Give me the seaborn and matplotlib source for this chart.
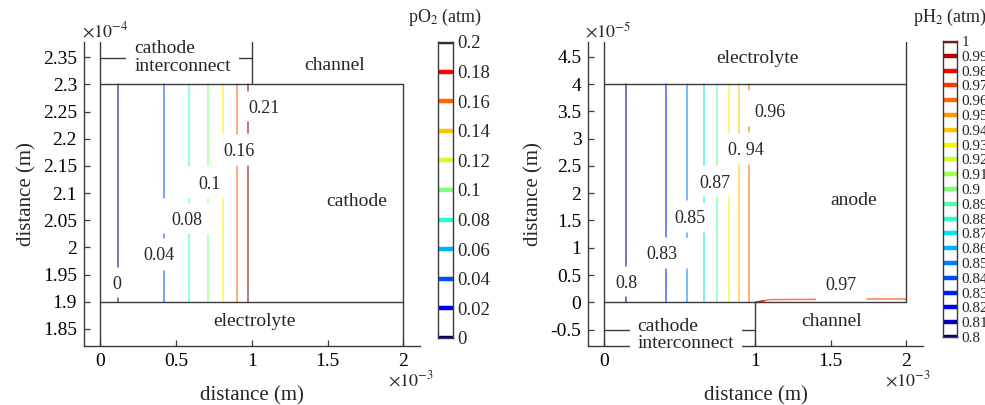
import numpy as np
import pandas as pd
import matplotlib
matplotlib.use("Agg")
import matplotlib.pyplot as plt
from matplotlib.ticker import FuncFormatter
import seaborn as sns

sns.set_style("ticks")
plt.rcParams["font.family"] = ["Liberation Serif", "DejaVu Serif"]
plt.rcParams["mathtext.fontset"] = "stix"
plt.rcParams["axes.unicode_minus"] = False

# ---------------- cathode side: oxygen partial pressure ----------------
# x in units of 1e-3 m, y in units of 1e-4 m
o2_levels = [0.0, 0.04, 0.08, 0.10, 0.13, 0.16, 0.21]
o2_x = [0.115, 0.423, 0.583, 0.709, 0.812, 0.900, 0.977]
o2_pieces = [
    [(2.300, 1.963), (1.906, 1.900)],
    [(2.300, 2.091), (2.024, 2.017), (1.957, 1.900)],
    [(2.300, 2.150), (2.089, 2.081), (2.024, 1.900)],
    [(2.300, 2.150), (2.089, 2.081), (2.024, 1.900)],
    [(2.300, 2.209), (2.091, 1.900)],
    [(2.300, 2.209), (2.150, 1.900)],
    [(2.300, 2.287), (2.230, 2.211), (2.150, 1.900)],
]
o2_label_text = ["0.21", "0.16", "0.1", "0.08", "0.04", "0"]
o2_label_x = [1.082, 0.914, 0.722, 0.573, 0.386, 0.109]
o2_label_y = [2.255, 2.1765, 2.116, 2.050, 1.985, 1.931]
o2_bar_levels = [0.0, 0.02, 0.04, 0.06, 0.08, 0.10, 0.12, 0.14, 0.16, 0.18, 0.20]
o2_bar_labels = ["0", "0.02", "0.04", "0.06", "0.08", "0.1", "0.12", "0.14",
                 "0.16", "0.18", "0.2"]
o2_yticks = [1.85, 1.90, 1.95, 2.00, 2.05, 2.10, 2.15, 2.20, 2.25, 2.30, 2.35]

# ---------------- anode side: hydrogen partial pressure ----------------
# x in units of 1e-3 m, y in units of 1e-5 m
h2_levels = [0.80, 0.83, 0.85, 0.87, 0.89, 0.93, 0.94, 0.96]
h2_x = [0.141, 0.405, 0.548, 0.661, 0.747, 0.825, 0.895, 0.961]
h2_pieces = [
    [(4.0, 0.667), (0.099, 0.0)],
    [(4.0, 1.198), (0.612, 0.0)],
    [(4.0, 1.875), (1.271, 1.198), (0.612, 0.0)],
    [(4.0, 2.516), (1.930, 1.839), (1.271, 0.0)],
    [(4.0, 2.516), (1.930, 0.0)],
    [(4.0, 3.103), (1.930, 0.0)],
    [(4.0, 3.103), (2.516, 0.0)],
    [(4.0, 3.890), (3.210, 3.120), (2.516, 0.0)],
]
# contours hugging the anode/interconnect boundary under the channel
h2_edge_levels = [0.97, 0.97, 0.99]
h2_edge_x = [[1.00, 1.10, 1.40], [1.74, 2.00], [1.00, 1.06]]
h2_edge_y = [[0.000, 0.050, 0.055], [0.055, 0.055], [0.000, 0.030]]
h2_label_text = ["0.96", "0. 94", "0.87", "0.85", "0.83", "0.8", "0.97"]
h2_label_x = [1.097, 0.935, 0.729, 0.568, 0.383, 0.146, 1.568]
h2_label_y = [3.48, 2.78, 2.18, 1.53, 0.88, 0.348, 0.304]
h2_bar_levels = [0.80, 0.81, 0.82, 0.83, 0.84, 0.85, 0.86, 0.87, 0.88, 0.89, 0.90,
                 0.91, 0.92, 0.93, 0.94, 0.95, 0.96, 0.97, 0.98, 0.99, 1.00]
h2_bar_labels = ["0.8", "0.81", "0.82", "0.83", "0.84", "0.85", "0.86", "0.87",
                 "0.88", "0.89", "0.9", "0.91", "0.92", "0.93", "0.94", "0.95",
                 "0.96", "0.97", "0.98", "0.99", "1"]
h2_yticks = [-0.5, 0.0, 0.5, 1.0, 1.5, 2.0, 2.5, 3.0, 3.5, 4.0, 4.5]

x_ticks_left = [0.0, 0.5, 1.0, 1.5, 2.0]
x_ticks_right = [0.0, 1.0, 1.5, 2.0]

jet = plt.get_cmap("jet")
EDGE = "#3a3a3a"
FS = 14


def contour_frame(xs, pieces, levels):
    rows, k = [], 0
    for x, lev, segs in zip(xs, levels, pieces):
        for y0, y1 in segs:
            rows.append((x, y0, lev, k))
            rows.append((x, y1, lev, k))
            k += 1
    return pd.DataFrame(rows, columns=["x", "y", "level", "piece"])


def curve_frame(xs, ys, levels, start):
    rows = []
    for k, (cx, cy, lev) in enumerate(zip(xs, ys, levels)):
        for a, b in zip(cx, cy):
            rows.append((a, b, lev, start + k))
    return pd.DataFrame(rows, columns=["x", "y", "level", "piece"])


def draw_contours(ax, df, vmin, vmax):
    norm = plt.Normalize(vmin, vmax, clip=True)
    pal = {lev: jet(norm(lev)) for lev in df["level"].unique()}
    sns.lineplot(data=df, x="x", y="y", hue="level", palette=pal,
                 units="piece", estimator=None, sort=False, legend=False,
                 lw=1.1, alpha=0.68, ax=ax, zorder=2)


def style_axes(ax, xlim, ylim, yticks, xticks):
    ax.set_xlim(*xlim)
    ax.set_ylim(*ylim)
    ax.set_xticks(xticks)
    ax.set_yticks(yticks)
    fmt = FuncFormatter(lambda v, p: f"{v:g}")
    ax.xaxis.set_major_formatter(fmt)
    ax.yaxis.set_major_formatter(fmt)
    for s in ("top", "right"):
        ax.spines[s].set_visible(False)
    for s in ("left", "bottom"):
        ax.spines[s].set_color(EDGE)
        ax.spines[s].set_linewidth(1.0)
    ax.tick_params(direction="in", length=4, width=0.9, colors=EDGE,
                   labelcolor="black", labelsize=FS, pad=5)
    ax.set_xlabel("distance (m)", fontsize=15, labelpad=12)
    ax.set_ylabel("distance (m)", fontsize=15, labelpad=5)
    ax.set_facecolor("white")


def draw_bar(cax, levels, labels, fs):
    norm = plt.Normalize(levels[0], levels[-1])
    cax.hlines(levels, 0, 1, colors=[jet(norm(v)) for v in levels], lw=3.2)
    cax.set_xlim(0, 1)
    cax.set_ylim(levels[0], levels[-1])
    cax.set_xticks([])
    cax.yaxis.tick_right()
    cax.set_yticks(levels)
    cax.set_yticklabels(labels)
    cax.tick_params(axis="y", length=0, labelsize=fs, pad=3)
    for s in cax.spines.values():
        s.set_visible(True)
        s.set_color(EDGE)
        s.set_linewidth(1.0)


W, H = 985, 405
fig = plt.figure(figsize=(W / 100, H / 100), dpi=100)


def px_axes(x0, y0, x1, y1):
    return fig.add_axes([x0 / W, 1 - y1 / H, (x1 - x0) / W, (y1 - y0) / H])


ax1 = px_axes(84, 42, 420, 346)
cb1 = px_axes(437.7, 42, 452.7, 338)
ax2 = px_axes(588.3, 42, 922.7, 346)
cb2 = px_axes(942.7, 41, 957.3, 337)

box = dict(boxstyle="square,pad=0.4", fc="white", ec="none")

# ---- left panel ----
y1lim = (1.8185, 2.378)
xlim = (-0.107, 2.11)
draw_contours(ax1, contour_frame(o2_x, o2_pieces, o2_levels), 0.0, 0.2)
lk = dict(color=EDGE, lw=1.0, zorder=4, clip_on=False)
ax1.plot([0, 0], [y1lim[0], y1lim[1]], **lk)
ax1.plot([2, 2], [y1lim[0], 2.3], **lk)
ax1.plot([1, 1], [2.3, y1lim[1]], **lk)
ax1.plot([0, 2], [2.3, 2.3], **lk)
ax1.plot([0, 2], [1.9, 1.9], **lk)
ax1.plot([0, 1], [2.349, 2.349], color=EDGE, lw=1.0, zorder=1.5)
for t, x, y in zip(o2_label_text, o2_label_x, o2_label_y):
    ax1.text(x, y, t, ha="center", va="center", fontsize=13, zorder=5)
ax1.text(0.543, 2.350, "cathode\ninterconnect", ha="center", va="center",
         multialignment="left", fontsize=FS, linespacing=1.05, bbox=box, zorder=3)
ax1.text(1.549, 2.335, "channel", ha="center", va="center", fontsize=FS)
ax1.text(1.695, 2.084, "cathode", ha="center", va="center", fontsize=FS)
ax1.text(1.015, 1.863, "electrolyte", ha="center", va="center", fontsize=FS)
style_axes(ax1, xlim, y1lim, o2_yticks, x_ticks_left)

# ---- right panel ----
y2lim = (-0.80, 4.77)
hdf = pd.concat([contour_frame(h2_x, h2_pieces, h2_levels),
                 curve_frame(h2_edge_x, h2_edge_y, h2_edge_levels, 100)],
                ignore_index=True)
draw_contours(ax2, hdf, 0.8, 1.0)
ax2.plot([0, 0], [y2lim[0], y2lim[1]], **lk)
ax2.plot([2, 2], [0, y2lim[1]], **lk)
ax2.plot([1, 1], [y2lim[0], 0], **lk)
ax2.plot([0, 2], [4, 4], **lk)
ax2.plot([0, 2], [0, 0], **lk)
ax2.plot([0, 1], [-0.5, -0.5], color=EDGE, lw=1.0, zorder=1.5)
for t, x, y in zip(h2_label_text, h2_label_x, h2_label_y):
    ax2.text(x, y, t, ha="center", va="center", fontsize=13, zorder=5)
ax2.text(0.54, -0.60, "cathode\ninterconnect", ha="center", va="center",
         multialignment="left", fontsize=FS, linespacing=1.05, bbox=box,
         zorder=6, clip_on=False)
ax2.text(1.508, -0.355, "channel", ha="center", va="center", fontsize=FS)
ax2.text(1.65, 1.863, "anode", ha="center", va="center", fontsize=FS)
ax2.text(1.016, 4.476, "electrolyte", ha="center", va="center", fontsize=FS)
style_axes(ax2, xlim, y2lim, h2_yticks, x_ticks_right)

# ---- colour bars ----
draw_bar(cb1, o2_bar_levels, o2_bar_labels, 13.5)
draw_bar(cb2, h2_bar_levels, h2_bar_labels, 11)
fig.text(445 / W, 1 - 17 / H, r"pO$_2$ (atm)", ha="center", va="center", fontsize=13)
fig.text(950 / W, 1 - 17 / H, r"pH$_2$ (atm)", ha="center", va="center", fontsize=13)

# ---- axis scale factors ----
fig.text(82 / W, 1 - 31 / H, r"$\times10^{-4}$", ha="left", va="center", fontsize=13)
fig.text(585 / W, 1 - 31 / H, r"$\times10^{-5}$", ha="left", va="center", fontsize=13)
fig.text(388 / W, 1 - 380 / H, r"$\times10^{-3}$", ha="left", va="center", fontsize=13)
fig.text(885 / W, 1 - 380 / H, r"$\times10^{-3}$", ha="left", va="center", fontsize=13)

fig.savefig("out.png", dpi=100, facecolor="white")
